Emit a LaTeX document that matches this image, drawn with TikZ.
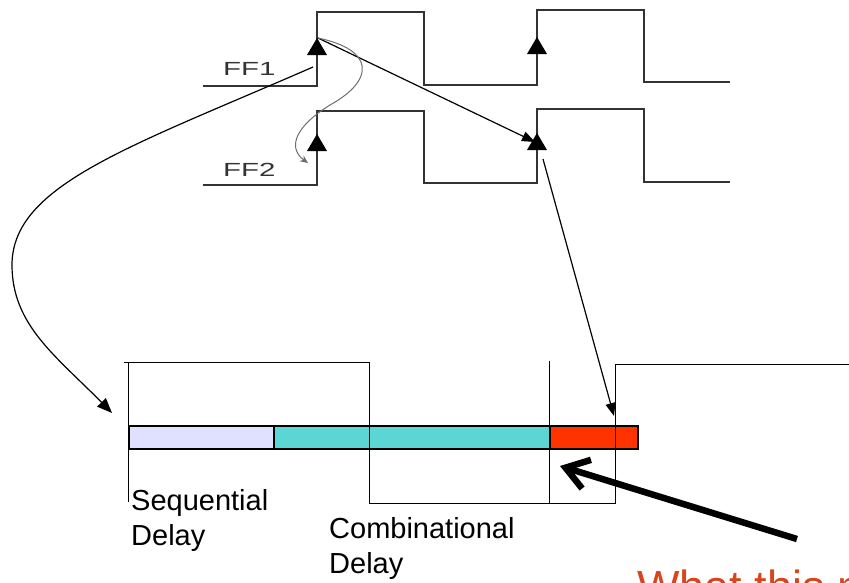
\documentclass[tikz,border=0pt]{standalone}
\usepackage{fontspec}
\setmainfont{Liberation Sans}
\usepackage{graphicx}
\usetikzlibrary{arrows.meta}
\definecolor{wavegray}{HTML}{333333}
\definecolor{curvegray}{HTML}{6E6E6E}
\definecolor{seqlav}{HTML}{E0E0FF}
\definecolor{combteal}{HTML}{5CD6D4}
\definecolor{setupred}{HTML}{FF3300}
\definecolor{noteorange}{HTML}{D9441A}
\tikzset{
  wave/.style={wavegray,line width=1.5pt},
  clk/.style={black,line width=1pt},
  link/.style={black,line width=1.2pt,-{Triangle[length=13pt,width=10pt]}},
  barseg/.style={draw=black,line width=1.5pt},
  ffl/.style={inner sep=0pt,text=wavegray,font=\fontsize{19}{22}\selectfont},
  lbl/.style={inner sep=0pt,align=left,font=\fontsize{29}{35}\selectfont},
  note/.style={inner sep=0pt,text=noteorange,font=\fontsize{45}{50}\selectfont}
}

\begin{document}
\begin{tikzpicture}[x=1pt,y=-1pt]
  \useasboundingbox (0,0) rectangle (849,582);
  % clock waveforms
  \draw[wave] (203,86) -- (317,86) -- (317,12) -- (424,12) -- (424,85)
    -- (537,85) -- (537,10) -- (644,10) -- (644,82) -- (730,82);
  \draw[wave] (203,185) -- (317,185) -- (317,111) -- (424,111) -- (424,183)
    -- (537,183) -- (537,109) -- (644,109) -- (644,182) -- (730,182);
  \foreach \ex/\ey in {317/38,537/37,317/134,537/133}
    \fill[black] (\ex-10,\ey+17) -- (\ex,\ey) -- (\ex+10,\ey+17) -- cycle;
  \node[ffl,anchor=base west] (ff1lbl) at (223,75) {\scalebox{1.55}[1]{FF1}};
  \node[ffl,anchor=base west] (ff2lbl) at (223,176) {\scalebox{1.55}[1]{FF2}};

  % delay bar
  \filldraw[barseg,fill=seqlav] (129,426) rectangle (274,449);
  \filldraw[barseg,fill=combteal] (274,426) rectangle (550,449);
  \filldraw[barseg,fill=setupred] (550,426) rectangle (638,449);

  % timing marks
  \draw[clk] (128,362) -- (128,502);
  \draw[clk] (124,362) -- (369,362) -- (369,503) -- (615,503)
    -- (615,364) -- (849,364);
  \draw[clk] (549,361) -- (549,503);

  \node[lbl,anchor=north west] (seqlbl) at (131,489) {Sequential\\Delay};
  \node[lbl,anchor=north west] (comblbl) at (329,517) {Combinational\\Delay};
  \node[note,anchor=base west] (whatnote) at (637,602) {What this m};

  % connectors
  \coordinate (ff1rise) at (318,38);
  \coordinate (ff1tail) at (313,67);
  \coordinate (ff2hit) at (535,142);
  \coordinate (ff2back) at (308,163);
  \coordinate (ff2tail) at (543,159);
  \coordinate (seqhit) at (112,413);
  \coordinate (setuphit) at (614,416);
  \coordinate (notetail) at (797,539);
  \coordinate (notehit) at (560,466);

  \draw[link] (ff1rise) -- (ff2hit);
  \draw[curvegray,line width=1pt,-{Stealth[length=8pt,width=7pt]}] (ff1rise)
    .. controls (375,50) and (375,80) .. (330,105)
    .. controls (290,130) and (290,150) .. (ff2back);
  \draw[link,-{Triangle[length=15pt,width=12pt]}] (ff1tail)
    .. controls (130,147) and (12,185) .. (12,265)
    .. controls (12,325) and (56,356) .. (seqhit);
  \draw[link] (ff2tail) -- (setuphit);
  \draw[black,line width=6.5pt,-{Straight Barb[length=22pt,width=30pt]}]
    (notetail) -- (notehit);
\end{tikzpicture}
\end{document}
